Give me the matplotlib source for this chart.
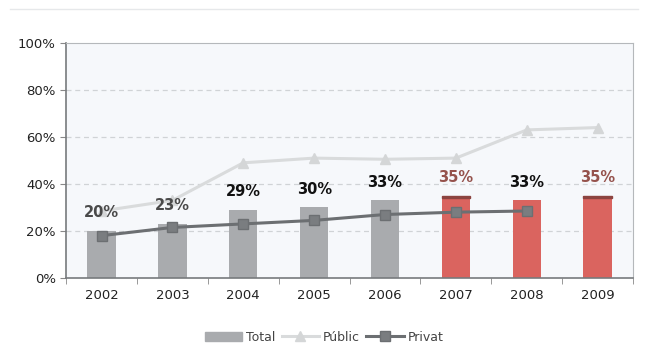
import numpy as np
import matplotlib.pyplot as plt
from matplotlib.patches import Rectangle

# --- Dades ---
years = ["2002", "2003", "2004", "2005", "2006", "2007", "2008", "2009"]
total = [20, 23, 29, 30, 33, 35, 33, 35]
public = [28.5, 33, 49, 51, 50.5, 51, 63, 64]
privat = [18, 21.5, 23, 24.5, 27, 28, 28.5]
labels = ["20%", "23%", "29%", "30%", "33%", "35%", "33%", "35%"]

bar_colors = ["#a9abae"] * 5 + ["#da645f"] * 3
label_colors = ["#4a4a4a", "#4a4a4a", "#111111", "#111111", "#111111",
                "#95524c", "#111111", "#95524c"]
cap = [False] * 5 + [True, False, True]

fig = plt.figure(figsize=(6.48, 3.55), dpi=100)
fig.patch.set_facecolor("white")
ax = fig.add_axes([0.102, 0.217, 0.875, 0.662])
ax.set_facecolor("#f6f8fb")

x = np.arange(len(years))
bars = ax.bar(x, total, width=0.4, color=bar_colors, zorder=2)
for i, b in enumerate(bars):
    if cap[i]:
        ax.add_patch(Rectangle((b.get_x(), total[i] - 0.9), b.get_width(), 0.9,
                               color="#8c4440", zorder=3))

ax.plot(x, public, color="#d9dbdc", lw=2.2, marker="^", markersize=7,
        markerfacecolor="#d4d6d7", markeredgecolor="#d4d6d7", zorder=3)
ax.plot(x[:len(privat)], privat, color="#6c6f72", lw=2.2, marker="s", markersize=7,
        markerfacecolor="#7a7d80", markeredgecolor="#6c6f72", zorder=4)

for i, t in enumerate(labels):
    ax.text(x[i], total[i] + 4.5, t, ha="center", va="bottom",
            fontsize=10.5, fontweight="bold", color=label_colors[i], zorder=5)

ax.set_xlim(-0.5, len(years) - 0.5)
ax.set_ylim(0, 100)
ax.set_yticks(range(0, 101, 20))
ax.set_yticklabels([f"{v}%" for v in range(0, 101, 20)], fontsize=9.5, color="#222222")
ax.set_xticks(x)
ax.set_xticklabels(years, fontsize=9.5, color="#222222")
ax.tick_params(axis="x", length=0, pad=8)
ax.set_xticks(np.arange(-0.5, len(years)), minor=True)
ax.tick_params(axis="x", which="minor", length=4, color="#888888")
ax.tick_params(axis="y", length=4, color="#888888")

for v in [20, 40, 60, 80]:
    ax.axhline(v, color="#d0d3d6", lw=0.9, ls=(0, (4, 3)), zorder=1)

for s in ["top", "right"]:
    ax.spines[s].set_color("#b5b8bb")
for s in ["left", "bottom"]:
    ax.spines[s].set_color("#777a7d")
    ax.spines[s].set_linewidth(1.2)

# llegenda: Total, Públic, Privat
handles = [
    Rectangle((0, 0), 1, 0.6, color="#a9abae"),
    plt.Line2D([], [], color="#d9dbdc", lw=2.2, marker="^", markersize=7,
               markerfacecolor="#d4d6d7", markeredgecolor="#d4d6d7"),
    plt.Line2D([], [], color="#6c6f72", lw=2.2, marker="s", markersize=7,
               markerfacecolor="#7a7d80", markeredgecolor="#6c6f72"),
]
fig.legend(handles, ["Total", "Públic", "Privat"], loc="lower center",
           bbox_to_anchor=(0.5, 0.0), ncol=3, frameon=False,
           fontsize=9, handlelength=3, columnspacing=0.5, handletextpad=0.3,
           labelcolor="#444444")

fig.add_artist(plt.Line2D([0.015, 0.985], [0.975, 0.975], color="#e6e8ea", lw=1))

fig.savefig("out.png", dpi=100)
